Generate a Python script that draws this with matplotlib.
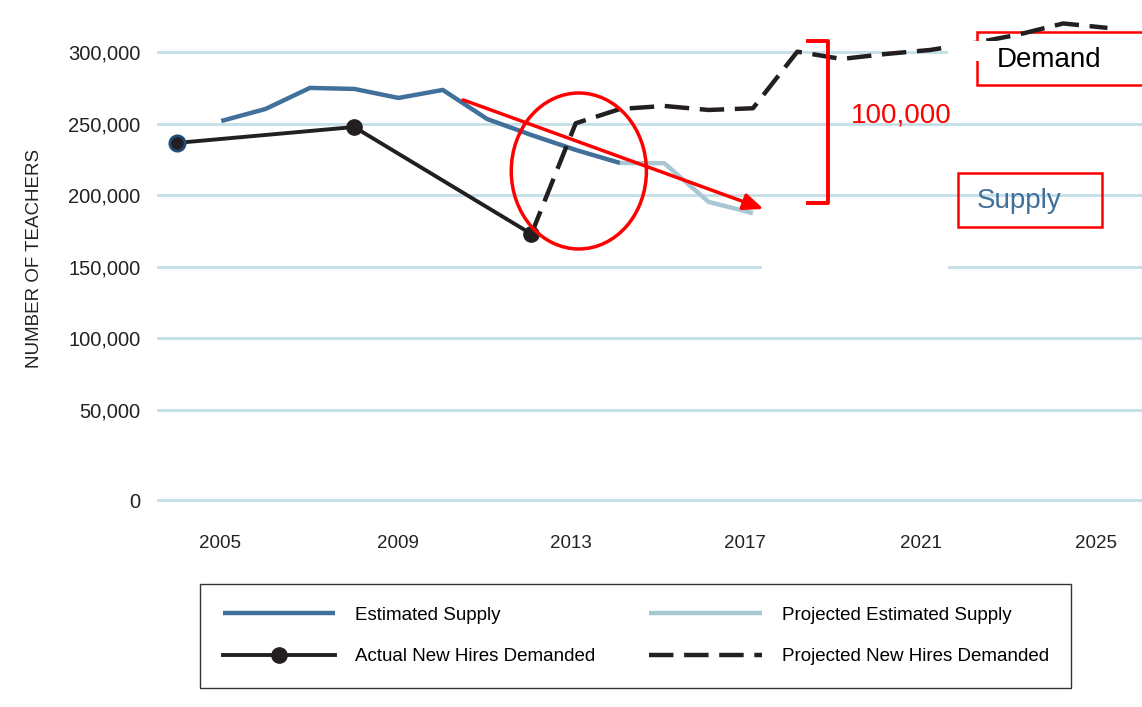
import matplotlib.pyplot as plt
from matplotlib.patches import Rectangle, Ellipse

plt.rcParams['font.family'] = ['Liberation Sans', 'DejaVu Sans']
NARROW = ['Liberation Sans Narrow', 'Liberation Sans', 'DejaVu Sans']

# data
est_years = [2005, 2006, 2007, 2008, 2009, 2010, 2011, 2012, 2013, 2014]
est_supply = [251800, 260200, 274900, 274200, 267900, 273500, 253200, 242000, 231600, 222500]

proj_supply_years = [2014, 2015, 2016, 2017]
proj_supply = [222500, 222300, 195300, 187500]

actual_years = [2004, 2008, 2012]
actual_hires = [236500, 247600, 172900]

proj_hires_years = [2012, 2013, 2014, 2015, 2016, 2017, 2018, 2019, 2020, 2021, 2022, 2023, 2024, 2025]
proj_hires = [172900, 250200, 260200, 262300, 259500, 260700, 300200, 295100, 298600, 301400, 306300, 312200, 319900, 316800]

xtick_years = [2005, 2009, 2013, 2017, 2021, 2025]
ytick_vals = [50000, 100000, 150000, 200000, 250000, 300000]
ytick_labels = ['50,000', '100,000', '150,000', '200,000', '250,000', '300,000']
zero_tick_pos = -12850  # the source chart draws its "0" line lower than the scale

# the source's year labels drift a little left of the data points
xtick_shift = [-0.02, -0.02, -0.11, -0.18, -0.2, -0.25]

c_est = '#41709b'
c_proj = '#a9c7d2'
c_black = '#231f20'
c_grid = '#c3dfe8'
red = '#ff0000'

fig = plt.figure(figsize=(11.42, 7.07), dpi=100)
ax = fig.add_axes([157/1142, 1 - 510/707, 985/1142, 500/707])
ax.set_xlim(2003.55, 2025.78)
ax.set_ylim(-19800, 329300)

for v in [zero_tick_pos] + ytick_vals:
    ax.axhline(v, color=c_grid, lw=2, zorder=1)

ax.plot(est_years, est_supply, color=c_est, lw=3.2, solid_capstyle='butt', zorder=3,
        label='Estimated Supply')
ax.plot(proj_supply_years, proj_supply, color=c_proj, lw=3.2, solid_capstyle='butt', zorder=3,
        label='Projected Estimated Supply')
ax.plot(proj_hires_years, proj_hires, color=c_black, lw=3.2, dashes=(5.5, 2.4), zorder=3,
        label='Projected New Hires Demanded')
ax.plot(actual_years, actual_hires, color=c_black, lw=2.8, marker='o', markersize=11,
        zorder=4, label='Actual New Hires Demanded')
ax.plot(actual_years[:1], actual_hires[:1], 'o', color=c_black, markersize=11,
        markeredgecolor='#1f4e79', markeredgewidth=2, zorder=5)

# white gaps over the grid
ax.add_patch(Rectangle((2017.2, 145500), 4.2, 9000, facecolor='white', edgecolor='none', zorder=2))
ax.add_patch(Rectangle((2021.4, 294000), 5, 13500, facecolor='white', edgecolor='none', zorder=5))

# red annotations
ax.annotate('', xy=(2017.3, 189700), xytext=(2010.4, 267200),
            arrowprops=dict(arrowstyle='-|>,head_length=1.2,head_width=0.5', color=red, lw=2.5),
            zorder=6)
ax.add_patch(Ellipse((2013.07, 216900), 3.05, 108900, fill=False, edgecolor=red, lw=2.5, zorder=6))
ax.plot([2018.24, 2018.70, 2018.70, 2018.24], [307700, 307700, 194600, 194600],
        color=red, lw=2.8, solid_joinstyle='round', zorder=6)
ax.text(2019.2, 255600, '100,000', color=red, fontsize=20, va='center', ha='left', zorder=6)

ax.add_patch(Rectangle((2022.05, 276700), 4, 37000, facecolor='white', edgecolor=red, lw=1.8,
                       zorder=2.5, clip_on=True))
ax.text(2022.5, 294600, 'Demand', color='black', fontsize=20, va='center', ha='left', zorder=6)
ax.add_patch(Rectangle((2021.63, 177800), 3.25, 37700, fill=False, edgecolor=red, lw=1.8, zorder=6))
ax.text(2022.05, 196000, 'Supply', color=c_est, fontsize=20, va='center', ha='left', zorder=6)

for s in ax.spines.values():
    s.set_visible(False)
ax.set_xticks([y + d for y, d in zip(xtick_years, xtick_shift)])
ax.set_xticklabels([str(y) for y in xtick_years], fontsize=13.5, family=NARROW, color='#222222')
ax.set_yticks([zero_tick_pos] + ytick_vals)
ax.set_yticklabels(['0'] + ytick_labels, fontsize=14.5, color='#222222')
ax.tick_params(axis='x', length=0, pad=18)
ax.tick_params(axis='y', length=0, pad=12)
ax.set_ylabel('NUMBER OF TEACHERS', fontsize=13.5, color='#222222')
ax.yaxis.set_label_coords(-0.116, 0.504)

h, l = ax.get_legend_handles_labels()
order = [0, 3, 1, 2]
leg = fig.legend([h[i] for i in order], [l[i] for i in order], ncol=2,
                 loc='upper left', bbox_to_anchor=(200/1142, 1 - 584/707),
                 frameon=True, fancybox=False, edgecolor='black',
                 prop={'family': NARROW, 'size': 13.5}, handlelength=6.0, handletextpad=1.05,
                 labelspacing=1.3, borderpad=1.2, borderaxespad=0, columnspacing=2.9)
leg.get_frame().set_linewidth(1)

fig.savefig('out.png', dpi=100)
